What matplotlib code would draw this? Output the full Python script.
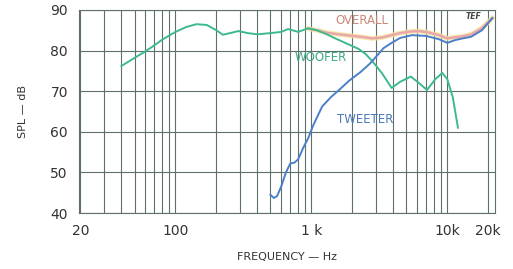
import matplotlib.pyplot as plt
from matplotlib.ticker import NullFormatter, FixedLocator, LogLocator

# woofer response (Hz, dB)
woofer_f = [40, 50, 60, 70, 80, 100, 120, 143, 170, 200, 223, 260, 290, 340, 400,
            500, 600, 675, 800, 950, 1100, 1300, 1500, 1800, 2230, 2500, 2780,
            3300, 3900, 4500, 5400, 6200, 7100, 8200, 9200, 10000, 11000, 12000]
woofer_db = [76.2, 78.2, 79.8, 81.3, 82.7, 84.6, 85.8, 86.5, 86.3, 85.0, 83.9, 84.4,
             84.8, 84.3, 84.0, 84.3, 84.6, 85.3, 84.6, 85.5, 85.0, 84.0, 83.0, 81.8,
             80.4, 79.2, 77.6, 74.5, 70.8, 72.3, 73.6, 72.0, 70.3, 73.0, 74.5, 73.0,
             68.5, 61.0]

# tweeter response
tweeter_f = [500, 530, 560, 600, 650, 700, 750, 800, 870, 950, 1030, 1200, 1400,
             1600, 1900, 2300, 2700, 3000, 3400, 3900, 4500, 5500, 7000, 8700,
             10000, 11500, 13000, 15000, 18000, 21500]
tweeter_db = [44.5, 43.7, 44.2, 46.5, 50.0, 52.2, 52.4, 53.2, 56.0, 58.5, 61.5,
              66.2, 68.6, 70.3, 72.6, 74.7, 76.8, 78.5, 80.6, 81.9, 83.1, 83.8,
              83.6, 82.8, 81.9, 82.6, 83.0, 83.4, 85.0, 88.0]

# overall response
overall_f = [950, 1100, 1300, 1600, 1900, 2300, 2800, 3300, 3900, 4500, 5400, 6200,
             7200, 8700, 10000, 11500, 13000, 15000, 18000, 21500]
overall_db = [85.4, 85.0, 84.4, 84.0, 83.7, 83.4, 83.0, 83.2, 83.8, 84.3, 84.7,
              84.8, 84.5, 83.8, 83.0, 83.3, 83.5, 84.0, 85.5, 88.0]

xticks = [20, 100, 1000, 10000, 20000]
xticklabels = ["20", "100", "1 k", "10k", "20k"]
yticks = [40, 50, 60, 70, 80, 90]

grid_c = "#5d716a"

fig = plt.figure(figsize=(5.13, 2.69), dpi=100)
ax = fig.add_axes([0.154, 0.208, 0.811, 0.755])

ax.set_xscale("log")
ax.set_xlim(19.5, 22500)
ax.set_ylim(40, 90)

ax.xaxis.set_major_locator(FixedLocator(xticks))
ax.set_xticklabels(xticklabels)
ax.xaxis.set_minor_locator(LogLocator(base=10, subs=range(2, 10), numticks=20))
ax.xaxis.set_minor_formatter(NullFormatter())
ax.set_yticks(yticks)

ax.grid(True, which="both", axis="x", color=grid_c, lw=0.8)
ax.grid(True, which="major", axis="y", color=grid_c, lw=0.8)
ax.tick_params(which="both", length=0, labelsize=10, colors="#333333", pad=8)
for s in ax.spines.values():
    s.set_color(grid_c)
    s.set_linewidth(0.8)

# overall drawn as a soft rainbow-ish band
ax.plot(overall_f, overall_db, color="#f5e7a0", lw=3.5, alpha=0.8, zorder=3)
ax.plot(overall_f, overall_db, color="#e8a0a8", lw=1.8, alpha=0.9, zorder=3)
ax.plot(woofer_f, woofer_db, color="#3dba8c", lw=1.4, zorder=4)
ax.plot(tweeter_f, tweeter_db, color="#4a80c8", lw=1.4, zorder=4)

ax.text(1500, 87.5, "OVERALL", color="#c98878", fontsize=8.5, ha="left", va="center")
ax.text(1180, 78.2, "WOOFER", color="#3daa80", fontsize=8.5, ha="center", va="center")
ax.text(2500, 63.0, "TWEETER", color="#4a78b8", fontsize=8.5, ha="center", va="center")
ax.text(15500, 88.5, "TEF", color="#444444", fontsize=5.5, style="italic",
        fontweight="bold", ha="center", va="center")

ax.set_xlabel("FREQUENCY — Hz", fontsize=8, color="#333333", labelpad=10)
ax.set_ylabel("SPL — dB", fontsize=8, color="#333333", labelpad=16)

fig.savefig("out.png", dpi=100)
